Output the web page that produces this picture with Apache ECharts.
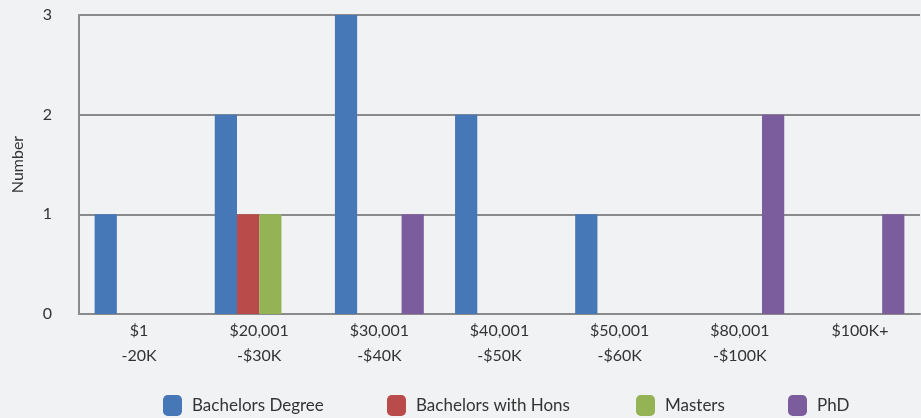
<!DOCTYPE html>
<html><head><meta charset="utf-8">
<script src="https://cdn.jsdelivr.net/npm/echarts@6/dist/echarts.min.js"></script>
<style>html,body{margin:0;padding:0;background:#f1f2f4;}#c{width:921px;height:418px;}</style>
</head><body><div id="c"></div>
<script>
const categories = ['$1\n-20K', '$20,001\n-$30K', '$30,001\n-$40K', '$40,001\n-$50K', '$50,001\n-$60K', '$80,001\n-$100K', '$100K+'];
const bachelorsDegree = [1, 2, 3, 2, 1, 0, 0];
const bachelorsHons = [0, 1, 0, 0, 0, 0, 0];
const masters = [0, 1, 0, 0, 0, 0, 0];
const phd = [0, 0, 1, 0, 0, 2, 1];
const yTicks = [0, 1, 2, 3];

const names = ['Bachelors Degree', 'Bachelors with Hons', 'Masters', 'PhD'];
const colors = ['#4677b6', '#b94c4a', '#94b355', '#7b5d9e'];
const values = [bachelorsDegree, bachelorsHons, masters, phd];
const legendLeft = [158, 382, 631, 783];
const font = 'Lato';
const chart = echarts.init(document.getElementById('c'), null, {renderer: 'canvas'});
chart.setOption({
  backgroundColor: '#f1f2f4',
  animation: false,
  textStyle: {fontFamily: font},
  grid: {left: 79, right: 1, top: 15, bottom: 104, containLabel: false, outerBoundsMode: 'none'},
  legend: names.map((n, i) => ({
    data: [n], left: legendLeft[i], top: 390, itemWidth: 19, itemHeight: 21,
    itemStyle: {borderWidth: 0},
    textStyle: {fontFamily: font, fontSize: 17, color: '#333', padding: [0, 0, 0, 5]}
  })),
  xAxis: {
    type: 'category', data: categories,
    axisLine: {lineStyle: {color: '#8a8a8a', width: 2}},
    axisTick: {show: false},
    axisLabel: {fontFamily: font, fontSize: 16, color: '#333', lineHeight: 25, margin: 4}
  },
  yAxis: {
    type: 'value', min: yTicks[0], max: yTicks[yTicks.length - 1], interval: 1,
    name: 'Number', nameLocation: 'middle', nameGap: 53, nameRotate: 90,
    nameTextStyle: {fontFamily: font, fontSize: 16, color: '#333'},
    axisLine: {show: true, lineStyle: {color: '#8a8a8a', width: 2}},
    axisTick: {show: false},
    splitLine: {lineStyle: {color: '#8a8a8a', width: 2}},
    axisLabel: {fontFamily: font, fontSize: 16, color: '#333', margin: 27}
  },
  series: names.map((n, i) => ({
    name: n, type: 'bar', data: values[i], barGap: '0%', barCategoryGap: '26%',
    itemStyle: {color: colors[i]}, z: 3
  }))
});
</script></body></html>
